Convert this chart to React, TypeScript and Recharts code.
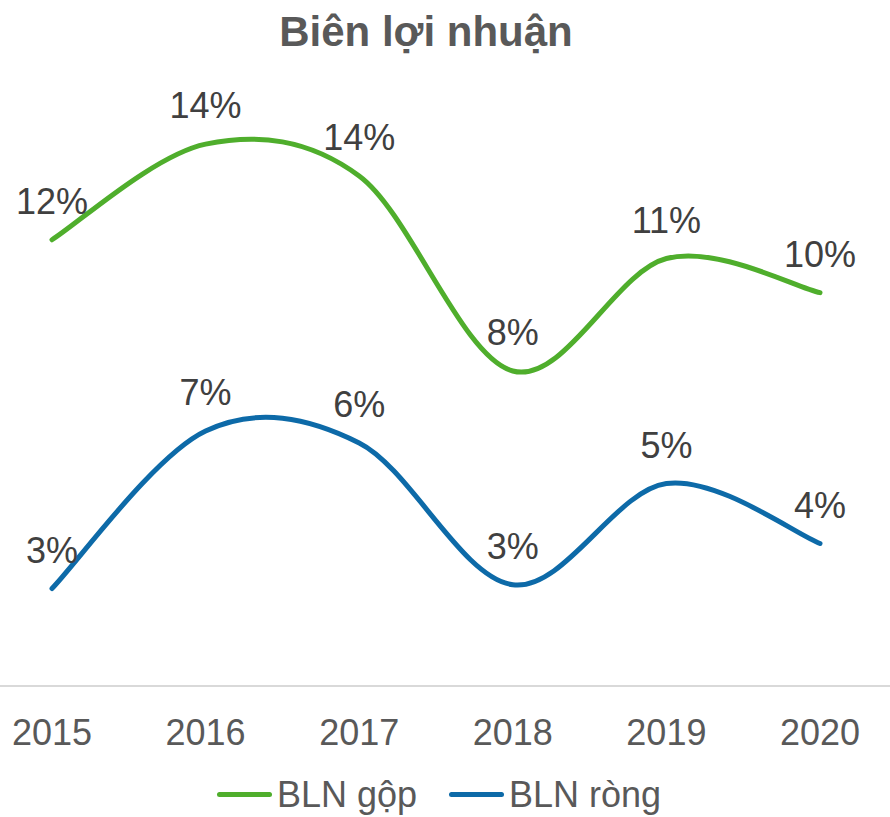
import { LineChart, Line, XAxis, YAxis, Legend, LabelList } from "recharts";

const YEARS = ["2015", "2016", "2017", "2018", "2019", "2020"];
// margins in %
const GROSS = [11.9, 14.45, 13.6, 8.4, 11.4, 10.49];
const NET = [2.6, 6.8, 6.48, 2.7, 5.4, 3.8];

const SERIES = [
  { key: "gop", name: "BLN gộp", color: "#4fae2c" },
  { key: "rong", name: "BLN ròng", color: "#0d6aa8" },
];

const data = YEARS.map((year, i) => ({ year, gop: GROSS[i], rong: NET[i] }));

const FONT = '"Liberation Sans", Arial, sans-serif';

// excel style smoothed line (catmull-rom as cubic beziers)
const smooth = (ctx: any) => {
  let pts: number[][] = [];
  return {
    areaStart() {},
    areaEnd() {},
    lineStart() {
      pts = [];
    },
    point(x: number, y: number) {
      pts.push([+x, +y]);
    },
    lineEnd() {
      if (!pts.length) return;
      ctx.moveTo(pts[0][0], pts[0][1]);
      for (let i = 0; i < pts.length - 1; i++) {
        const p0 = pts[i - 1] || pts[i];
        const p1 = pts[i];
        const p2 = pts[i + 1];
        const p3 = pts[i + 2] || p2;
        ctx.bezierCurveTo(
          p1[0] + (p2[0] - p0[0]) / 6, p1[1] + (p2[1] - p0[1]) / 6,
          p2[0] - (p3[0] - p1[0]) / 6, p2[1] - (p3[1] - p1[1]) / 6,
          p2[0], p2[1],
        );
      }
    },
  };
};

const PctLabel = (props: any) => {
  const { x, y, value } = props;
  return (
    <text x={x} y={y - 26} textAnchor="middle" fontSize={36} fill="#404040" fontFamily={FONT}>
      {Math.round(value)}%
    </text>
  );
};

const LegendBox = () => (
  <div
    style={{
      height: 51, paddingTop: 6, boxSizing: "border-box", display: "flex",
      justifyContent: "center", alignItems: "center", gap: 32, paddingRight: 12,
      fontFamily: FONT, fontSize: 36, lineHeight: 1, color: "#595959",
    }}
  >
    {SERIES.map((s) => (
      <div key={s.key} style={{ display: "flex", alignItems: "center", gap: 5 }}>
        <span style={{ width: 55, height: 5, borderRadius: 3, background: s.color, display: "inline-block" }} />
        <span>{s.name}</span>
      </div>
    ))}
  </div>
);

export default function App() {
  return (
    <div style={{ position: "relative", width: 890, height: 817, fontFamily: FONT, background: "#fff" }}>
      <style>{"body{margin:0}"}</style>
      <div
        style={{
          position: "absolute", top: 11, left: 426, transform: "translateX(-50%)",
          fontSize: 42, lineHeight: "42px", fontWeight: "bold", color: "#595959", whiteSpace: "nowrap",
        }}
      >
        Biên lợi nhuận
      </div>
      <LineChart width={890} height={817} data={data} margin={{ top: 86, right: 0, left: 0, bottom: 0 }}>
        <XAxis
          dataKey="year"
          padding={{ left: 52, right: 70 }}
          height={80}
          tickSize={0}
          tickMargin={33}
          tickLine={false}
          axisLine={{ stroke: "#d9d9d9", strokeWidth: 2 }}
          tick={{ fontSize: 36, fill: "#595959", fontFamily: FONT }}
          interval={0}
        />
        <YAxis hide domain={[0, 16]} />
        <Legend verticalAlign="bottom" height={51} content={LegendBox} />
        {SERIES.map((s) => (
          <Line
            key={s.key}
            dataKey={s.key}
            name={s.name}
            type={smooth as any}
            stroke={s.color}
            strokeWidth={5}
            strokeLinecap="round"
            dot={false}
            activeDot={false}
            isAnimationActive={false}
          >
            <LabelList dataKey={s.key} content={PctLabel} />
          </Line>
        ))}
      </LineChart>
    </div>
  );
}
